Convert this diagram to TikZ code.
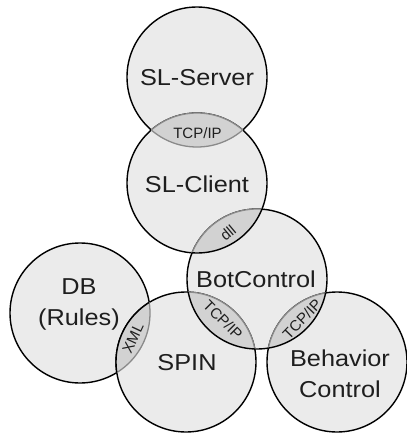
\documentclass[tikz,border=0pt]{standalone}
\usepackage{fontspec}
\setmainfont{Liberation Sans}[FakeStretch=1.1]
\newfontfamily\lensfont{Liberation Sans}
\definecolor{cfill}{HTML}{EBEBEB}
\definecolor{lfill}{HTML}{D2D2D2}
\definecolor{lline}{HTML}{8A8A8A}
\definecolor{txt}{HTML}{1E1E1E}
\tikzset{
  disc/.style={circle, minimum size=140pt, inner sep=0pt, fill=cfill, draw=black, line width=1.4pt},
  lbl/.style={text=txt, font=\fontsize{23}{31}\selectfont, align=center, inner sep=0pt},
  lenslabel/.style={text=txt, font=\lensfont\fontsize{15}{16}\selectfont, inner sep=0pt},
  lensline/.style={draw=lline, line width=1.3pt},
  blackline/.style={draw=black, line width=1.4pt}
}
\newcommand{\lens}[3]{% #1 clip circle, #2 other circle, #3 style of arc of #1
  \begin{scope}\clip (#1) circle (70pt); \fill[lfill] (#2) circle (70pt);\end{scope}
  \begin{scope}\clip (#1) circle (70pt); \draw[lensline] (#2) circle (70pt);\end{scope}
  \begin{scope}\clip (#2) circle (70pt); \draw[#3] (#1) circle (70pt);\end{scope}
}
\begin{document}
\begin{tikzpicture}[x=1pt,y=-1pt]
\useasboundingbox (0,0) rectangle (407,437);
\coordinate (cs) at (197,77);
\coordinate (cc) at (197,183);
\coordinate (cb) at (257,279);
\coordinate (cd) at (80,313);
\coordinate (cp) at (186,362);
\coordinate (ch) at (337,362);
\node[disc] (srv) at (cs) {};
\node[disc] (cli) at (cc) {};
\node[disc] (bot) at (cb) {};
\node[disc] (db) at (cd) {};
\node[disc] (spin) at (cp) {};
\node[disc] (beh) at (ch) {};
% lenses
\lens{cs}{cc}{lensline}
\lens{cc}{cb}{blackline}
\lens{cp}{cd}{blackline}
\lens{cb}{cp}{blackline}
\lens{cb}{ch}{blackline}
% labels
\node[lbl] (tsrv) at (197,78) {SL-Server};
\node[lbl] (tcli) at (197,184) {SL-Client};
\node[lbl] (tbot) at (256,279) {BotControl};
\node[lbl] (tdb) at (79,304) {DB\\(Rules)};
\node[lbl] (tspin) at (187,363) {SPIN};
\node[lbl] (tbeh) at (340,374) {Behavior\\Control};
\node[lenslabel] (l1) at (197.5,133) {TCP/IP};
\node[lenslabel, rotate=40] (l2) at (228,233) {dll};
\node[lenslabel, rotate=65] (l3) at (133,338) {XML};
\node[lenslabel, rotate=-45] (l4) at (223,320) {TCP/IP};
\node[lenslabel, rotate=46] (l5) at (302,319) {TCP/IP};
\end{tikzpicture}
\end{document}
